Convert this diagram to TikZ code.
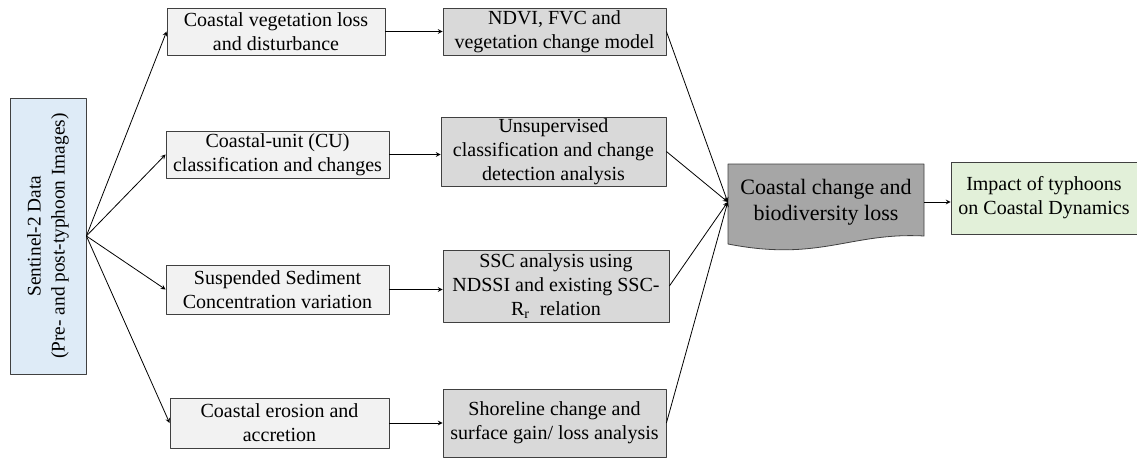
\documentclass[tikz,border=0pt]{standalone}
\usepackage{fontspec}
\setmainfont{Liberation Serif}
\usetikzlibrary{arrows}
\definecolor{satblue}{HTML}{DEEBF7}
\definecolor{stepgray}{HTML}{F2F2F2}
\definecolor{methgray}{HTML}{D9D9D9}
\definecolor{lossgray}{HTML}{A6A6A6}
\definecolor{impgreen}{HTML}{E2F0D9}
\begin{document}
\begin{tikzpicture}[x=0.75pt, y=-0.75pt, line join=round, >=stealth, font=\fontsize{15}{18}\selectfont]
	\tikzset{box/.style={draw=black!75, line width=0.6pt, align=center, inner sep=1pt},
		theme/.style={box, fill=stepgray},
		method/.style={box, fill=methgray},
		link/.style={->, line width=0.6pt}}
	\useasboundingbox (0,0) rectangle (1137,460);
	% input data
	\node[box, fill=satblue, rotate=90, minimum width=207pt, minimum height=57pt, font=\fontsize{14.5}{18}\selectfont] (s2) at (48,236)
		{Sentinel-2 Data\\(Pre- and post-typhoon Images)};
	% themes
	\node[theme, minimum width=163.5pt, minimum height=35.25pt] (veg) at (276,31.5)
		{Coastal vegetation loss\\and disturbance};
	\node[theme, minimum width=167.25pt, minimum height=35.25pt] (cu) at (277.5,154.5)
		{Coastal-unit (CU)\\classification and changes};
	\node[theme, minimum width=167.25pt, minimum height=36.75pt] (ssc) at (277.5,289.5)
		{Suspended Sediment\\Concentration variation};
	\node[theme, minimum width=164.25pt, minimum height=37.5pt] (ero) at (279.5,423)
		{Coastal erosion and\\accretion};
	% methods
	\node[method, minimum width=167.25pt, minimum height=35.25pt] (ndvi) at (554.5,31.5)
		{NDVI, FVC and\\vegetation change model};
	\node[method, minimum width=168.75pt, minimum height=51.75pt] (unsup) at (553.5,151.5)
		{Unsupervised\\classification and change\\detection analysis};
	\node[method, minimum width=169.5pt, minimum height=54pt] (ndssi) at (556,286)
		{SSC analysis using\\NDSSI and existing SSC-\\R\textsubscript{r}\ \ relation};
	\node[method, minimum width=167.25pt, minimum height=51pt] (shore) at (554.5,423)
		{Shoreline change and\\surface gain/ loss analysis};
	% outcome (document shape)
	\draw[draw=black!75, line width=0.6pt, fill=lossgray] (728,164) -- (924,164) -- (924,236)
		.. controls (850,232) and (820,262) .. (728,244) -- cycle;
	\node[align=center, minimum width=147pt, minimum height=54pt, font=\fontsize{16.5}{19.5}\selectfont] (cc) at (826,202)
		{Coastal change and\\biodiversity loss};
	\node[box, fill=impgreen, minimum width=139.5pt, minimum height=54pt] (imp) at (1044,198)
		{Impact of typhoons\\on Coastal Dynamics};
	% connectors
	\foreach \t/\m in {veg/ndvi, cu/unsup, ssc/ndssi, ero/shore} {
		\draw[link] (s2.south) -- (\t.west);
		\draw[link] (\t.east) -- (\t.east -| \m.west);
		\draw[link] (\m.east) -- (cc.west);
	}
	\draw[link] (cc.east) -- (cc.east -| imp.west);
\end{tikzpicture}
\end{document}
